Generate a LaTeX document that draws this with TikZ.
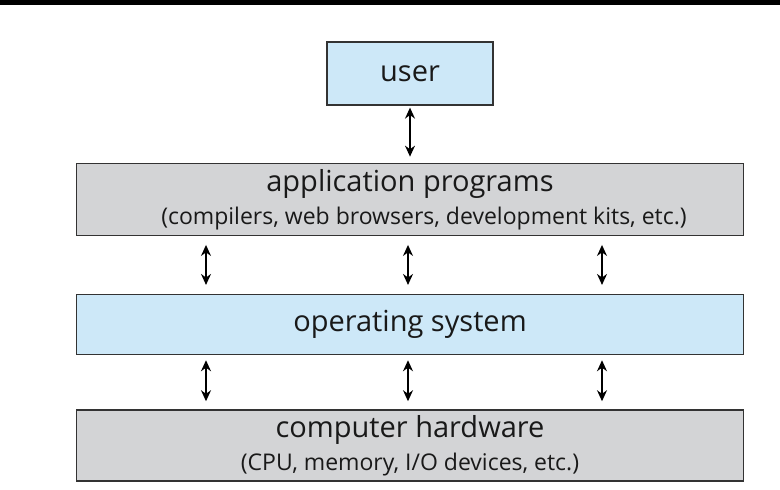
\documentclass[tikz,border=0pt]{standalone}
\usepackage{fontspec}
\setmainfont{Open Sans}
\usetikzlibrary{arrows.meta}
\usetikzlibrary{positioning}
\definecolor{osblue}{HTML}{CDE8F8}
\definecolor{hwgray}{HTML}{D3D4D6}
\definecolor{edge}{HTML}{333333}
\newcommand{\bigtext}{\fontsize{29}{33}\selectfont}
\newcommand{\smalltext}{\fontsize{23}{33}\selectfont}
\tikzstyle{layer} = [rectangle, draw=edge, line width=1.3pt, minimum width=667pt,
    text=black!90, font=\bigtext, align=center, inner sep=0pt]
\tikzstyle{userbox} = [rectangle, draw=edge, line width=1.3pt, fill=osblue,
    minimum width=166pt, minimum height=63pt, text=black!90, font=\bigtext]
\tikzstyle{line} = [draw, line width=1.4pt,
    {Stealth[length=11pt,width=10pt]}-{Stealth[length=11pt,width=10pt]}]

\begin{document}
\begin{tikzpicture}[x=1pt, y=1pt]
    \useasboundingbox (0,0) rectangle (780,490);
    \fill (0,485) rectangle (780,490);
    % Place nodes
    \node [userbox] (user) at (410,416.5) {user};
    \node [layer, fill=hwgray, minimum height=72pt, below=57pt of user] (app)
        {application programs\\{\smalltext\hspace*{28pt}(compilers, web browsers, development kits, etc.)}};
    \node [layer, fill=osblue, minimum height=60pt, below=58pt of app] (os) {operating system};
    \node [layer, fill=hwgray, minimum height=71pt, below=54pt of os] (hw)
        {computer hardware\\{\smalltext (CPU, memory, I/O devices, etc.)}};

    % Draw edges
    \path [line] ([yshift=-2pt]user.south) -- ([yshift=6pt]app.north);
    \foreach \dx in {-204,-2,192} {
        \path [line] ([xshift=\dx pt, yshift=-9pt]app.south) -- ([xshift=\dx pt, yshift=9pt]os.north);
        \path [line] ([xshift=\dx pt, yshift=-5pt]os.south) -- ([xshift=\dx pt, yshift=8pt]hw.north);
    }
\end{tikzpicture}
\end{document}
